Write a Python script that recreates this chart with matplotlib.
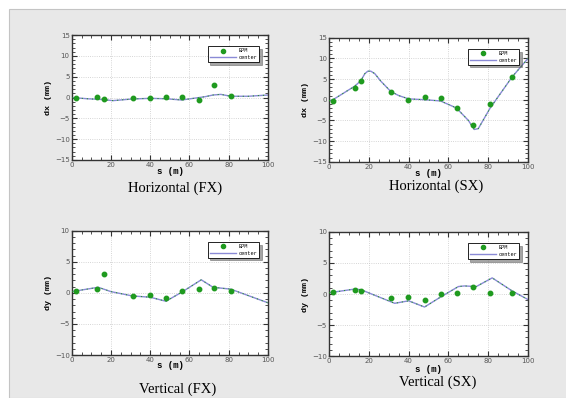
import matplotlib
matplotlib.use('Agg')
import matplotlib.pyplot as plt
from matplotlib.patches import Rectangle
from matplotlib.ticker import MultipleLocator

# BPM positions (m)
bpm_s_fx = [2, 13, 16.4, 31.4, 39.8, 48, 56.3, 64.6, 72.7, 81.2]
bpm_s_sx = [2, 13, 16.2, 31.2, 39.8, 48, 56.2, 64.5, 72.5, 81, 92]

# Horizontal (FX)
hfx_bpm = [0.0, 0.1, -0.4, 0.0, 0.0, 0.2, 0.2, -0.5, 3.0, 0.3]
hfx_line_s = [0, 8, 16, 21, 31, 40, 48, 56, 62, 68, 72, 76, 81, 90, 100]
hfx_line = [0.0, -0.3, -0.5, -0.75, -0.35, -0.2, -0.3, -0.6, -0.2, 0.2, 0.6, 0.75, 0.3, 0.3, 0.6]

# Horizontal (SX)
hsx_bpm = [-0.2, 2.9, 4.5, 1.9, -0.1, 0.6, 0.3, -1.9, -6.1, -1.0, 5.6]
hsx_line_s = [0, 2, 13, 16, 18, 19.5, 21, 23, 26, 31, 35, 40, 48, 56, 64, 70, 73, 75, 81, 92, 100]
hsx_line = [-0.3, 0.0, 3.3, 4.6, 6.3, 6.9, 6.9, 6.3, 4.5, 2.0, 1.0, 0.2, 0.0, -0.3, -2.0, -5.0, -7.2, -7.0, -2.0, 5.5, 10.0]

# Vertical (FX)
vfx_bpm = [0.3, 0.7, 3.1, -0.5, -0.4, -0.8, 0.25, 0.7, 0.8, 0.35]
vfx_line_s = [0, 13.5, 20, 31, 40, 48, 56, 66, 72, 81, 100]
vfx_line = [0.2, 0.9, 0.2, -0.5, -0.7, -1.35, 0.1, 2.1, 0.9, 0.6, -1.6]

# Vertical (SX)
vsx_bpm = [0.3, 0.6, 0.5, -0.7, -0.5, -1.0, 0.0, 0.2, 1.2, 0.2, 0.2]
vsx_line_s = [0, 13, 16, 33, 40, 48, 56, 65, 68, 74, 82, 92, 100]
vsx_line = [0.2, 0.8, 0.7, -1.5, -1.1, -2.1, -0.5, 1.2, 1.3, 1.2, 2.6, 0.5, -0.9]

GREEN = '#1f9a1f'
PURPLE = '#8a8ad6'

fig = plt.figure(figsize=(5.66, 3.98), dpi=100)
fig.patch.set_facecolor('white')
fig.patches.append(Rectangle((9/566, 0), 1, 389/398, transform=fig.transFigure,
                             facecolor='#e8e8e8', edgecolor='#c4c4c4', lw=0.8, zorder=-10))


def panel(rect, s_bpm, v_bpm, s_line, v_line, ylim, ylab, title, tpos, xlpos):
	ax = fig.add_axes(rect)
	ax.set_facecolor('white')
	ax.plot(s_line, v_line, color=PURPLE, lw=1.0, zorder=2)
	ax.plot(s_line, v_line, color=GREEN, lw=0.7, dashes=(1.2, 4), zorder=3)
	ax.plot(s_bpm, v_bpm, 'o', color=GREEN, ms=3.2, zorder=4)
	ax.set_xlim(0, 100)
	ax.set_ylim(-ylim, ylim)
	ax.xaxis.set_major_locator(MultipleLocator(20))
	ax.xaxis.set_minor_locator(MultipleLocator(5))
	ax.yaxis.set_major_locator(MultipleLocator(5))
	ax.yaxis.set_minor_locator(MultipleLocator(1))
	ax.tick_params(which='both', direction='in', top=True, right=True,
	               labelsize=5, labelcolor='#555555', color='#333333', pad=1.5)
	ax.tick_params(which='major', length=3.5, width=0.8)
	ax.tick_params(which='minor', length=2, width=0.6)
	ax.grid(True, which='major', color='#c8c8c8', ls=':', lw=0.6)
	for sp in ax.spines.values():
		sp.set_color('#333333')
		sp.set_linewidth(1.0)
	ax.set_ylabel(ylab, family='Liberation Mono', weight='bold', fontsize=6, labelpad=2)
	fig.text(xlpos[0], xlpos[1], 's (m)', family='Liberation Mono', weight='bold',
	         fontsize=6.5, ha='center', va='center')
	fig.text(tpos[0], tpos[1], title, family='Liberation Serif', fontsize=10.5,
	         ha='center', va='center')
	h1 = plt.Line2D([], [], color=GREEN, marker='o', ms=3, ls='none')
	h2 = plt.Line2D([], [], color=PURPLE, lw=1.0)
	leg = ax.legend([h1, h2], ['BPM', 'center'], loc='upper right',
	                bbox_to_anchor=(0.955, 0.91), borderaxespad=0, fancybox=False,
	                shadow=True, framealpha=1, edgecolor='black',
	                prop={'family': 'Liberation Mono', 'size': 3.8},
	                handlelength=5, handletextpad=0.4, borderpad=0.4,
	                labelspacing=0.3)
	leg.get_frame().set_linewidth(0.6)
	return ax


panel([0.1267, 0.598, 0.3468, 0.314], bpm_s_fx, hfx_bpm, hfx_line_s, hfx_line,
      15, 'dx (mm)', 'Horizontal (FX)', (175/566, 1-188/398), (170/566, 1-172/398))
panel([0.5813, 0.5937, 0.3516, 0.3116], bpm_s_sx, hsx_bpm, hsx_line_s, hsx_line,
      15, 'dx (mm)', 'Horizontal (SX)', (436/566, 1-186/398), (428/566, 1-173/398))
panel([0.1267, 0.108, 0.3468, 0.3123], bpm_s_fx, vfx_bpm, vfx_line_s, vfx_line,
      10, 'dy (mm)', 'Vertical (FX)', (178/566, 1-389/398), (170/566, 1-366/398))
panel([0.5813, 0.1055, 0.3516, 0.3116], bpm_s_sx, vsx_bpm, vsx_line_s, vsx_line,
      10, 'dy (mm)', 'Vertical (SX)', (438/566, 1-382/398), (428/566, 1-369/398))

fig.savefig('out.png', dpi=100)
